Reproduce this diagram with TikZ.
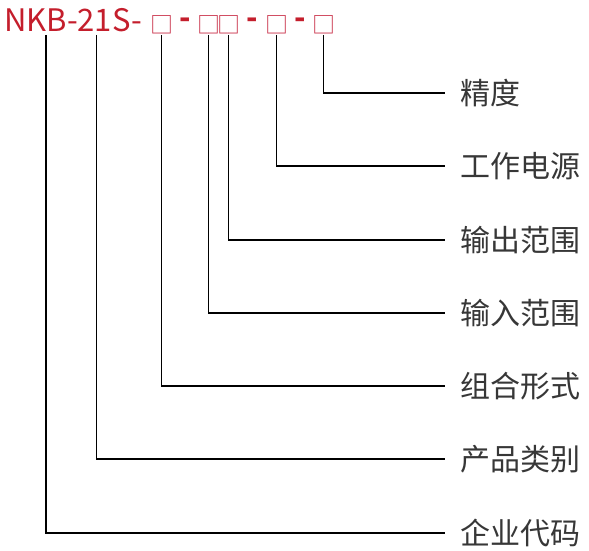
\documentclass[tikz,border=0pt]{standalone}
\usepackage{fontspec}
\setmainfont{Noto Sans CJK SC}
\definecolor{titlered}{RGB}{196,30,44}
\definecolor{boxred}{RGB}{200,45,70}
\definecolor{labgray}{RGB}{55,55,55}
\begin{document}
\begin{tikzpicture}[x=1pt,y=-1pt,
  title/.style={font=\fontsize{31}{31}\selectfont, text=titlered, inner sep=0pt},
  phbox/.style={font=\fontsize{23}{23}\selectfont, text=boxred, inner sep=0pt},
  dashtxt/.style={font=\fontsize{30}{30}\selectfont\bfseries, text=titlered, inner sep=0pt},
  lab/.style={font=\fontsize{30}{30}\selectfont, text=labgray, anchor=west, inner sep=0pt},
  conn/.style={draw=black, line width=1.2pt}]
\useasboundingbox (0,0) rectangle (589,551);
\node[title, anchor=base west] (t) at (4,32) {NKB-21S-};
\node[phbox] (b1) at (161.5,24.5) {□};
\node[dashtxt] (d1) at (185.5,23) {-};
\node[phbox] (b2) at (208.5,24.5) {□};
\node[phbox] (b3) at (228.5,24.5) {□};
\node[dashtxt] (d2) at (252,23) {-};
\node[phbox] (b4) at (276.5,24.5) {□};
\node[dashtxt] (d3) at (300,23) {-};
\node[phbox] (b5) at (323.5,24.5) {□};
\coordinate (cN) at (46,35);
\coordinate (c2) at (96.7,35);
\node[lab] (l1) at (460,93) {精度};
\node[lab] (l2) at (460,166) {工作电源};
\node[lab] (l3) at (460,240) {输出范围};
\node[lab] (l4) at (460,313) {输入范围};
\node[lab] (l5) at (460,386) {组合形式};
\node[lab] (l6) at (460,459) {产品类别};
\node[lab] (l7) at (460,533) {企业代码};
\draw[conn] (b5.center |- cN) |- ([xshift=-15pt]l1.west);
\draw[conn] (b4.center |- cN) |- ([xshift=-15pt]l2.west);
\draw[conn] (b3.center |- cN) |- ([xshift=-15pt]l3.west);
\draw[conn] (b2.center |- cN) |- ([xshift=-15pt]l4.west);
\draw[conn] (b1.center |- cN) |- ([xshift=-15pt]l5.west);
\draw[conn] (c2) |- ([xshift=-15pt]l6.west);
\draw[conn] (cN) |- ([xshift=-15pt]l7.west);
\end{tikzpicture}
\end{document}
